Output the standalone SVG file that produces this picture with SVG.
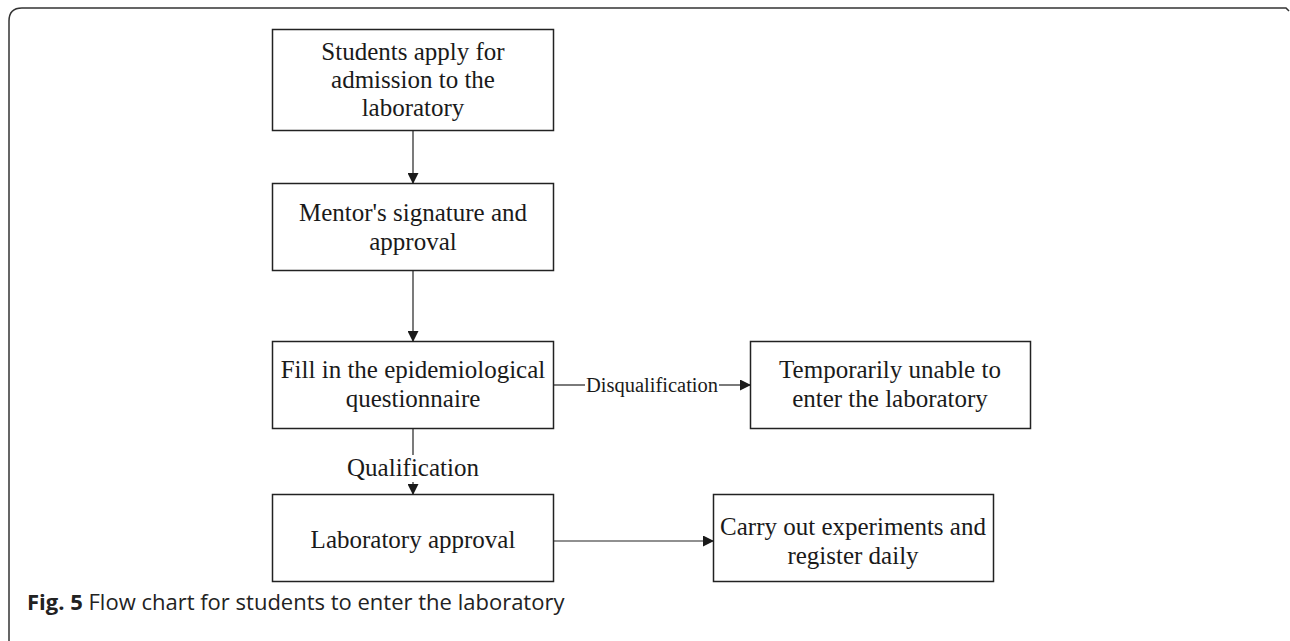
<svg xmlns="http://www.w3.org/2000/svg" width="1290" height="641" viewBox="0 0 1290 641">
<defs>
<marker id="arr" markerWidth="11" markerHeight="11" refX="10" refY="5.5" orient="auto" markerUnits="userSpaceOnUse" viewBox="0 0 11 11">
<path d="M0,0 L11,5.5 L0,11 z" fill="#1a1a1a"/>
</marker>
<style>
.box{fill:#fff;stroke:#222;stroke-width:1.5}
.t{font-family:"Liberation Serif","Times New Roman",serif;font-size:25px;fill:#1a1a1a;text-anchor:middle}
.lbl{font-family:"Liberation Serif","Times New Roman",serif;font-size:20.5px;fill:#1a1a1a;text-anchor:middle}
.c{stroke:#222;stroke-width:1.2;fill:none}
.cap{font-family:"Open Sans","Noto Sans",sans-serif;font-size:22px;fill:#222}
</style>
</defs>
<rect width="1290" height="641" fill="#fff"/>
<path d="M9,641 L9,21 Q9,8 22,8 L1286,8 L1289,11" fill="none" stroke="#333" stroke-width="1.5"/>
<g id="n1"><rect class="box" x="272.5" y="29.5" width="281" height="101"/>
<text class="t" x="413" y="60">Students apply for</text>
<text class="t" x="413" y="88">admission to the</text>
<text class="t" x="413" y="116">laboratory</text></g>
<g id="n2"><rect class="box" x="272.5" y="183.5" width="281" height="87"/>
<text class="t" x="413" y="221">Mentor's signature and</text>
<text class="t" x="413" y="250">approval</text></g>
<g id="n3"><rect class="box" x="272.5" y="341.5" width="281" height="87"/>
<text class="t" x="413" y="378">Fill in the epidemiological</text>
<text class="t" x="413" y="407">questionnaire</text></g>
<g id="n4"><rect class="box" x="750.5" y="341.5" width="280" height="87"/>
<text class="t" x="890" y="378">Temporarily unable to</text>
<text class="t" x="890" y="407">enter the laboratory</text></g>
<g id="n5"><rect class="box" x="272.5" y="494.5" width="281" height="87"/>
<text class="t" x="413" y="548">Laboratory approval</text></g>
<g id="n6"><rect class="box" x="713.5" y="494.5" width="280" height="87"/>
<text class="t" x="853" y="535">Carry out experiments and</text>
<text class="t" x="853" y="564">register daily</text></g>
<g id="connectors">
<line class="c" x1="413" y1="131" x2="413" y2="183" marker-end="url(#arr)"/>
<line class="c" x1="413" y1="271" x2="413" y2="341" marker-end="url(#arr)"/>
<line class="c" x1="554" y1="385" x2="585" y2="385"/>
<text class="lbl" x="652" y="392">Disqualification</text>
<line class="c" x1="719" y1="385" x2="750" y2="385" marker-end="url(#arr)"/>
<line class="c" x1="413" y1="429" x2="413" y2="455"/>
<text class="lbl" x="413" y="476" style="font-size:25px">Qualification</text>
<line class="c" x1="413" y1="482" x2="413" y2="494" marker-end="url(#arr)"/>
<line class="c" x1="554" y1="541" x2="713" y2="541" marker-end="url(#arr)"/>
</g>
<text class="cap" x="27" y="610"><tspan font-weight="bold">Fig. 5</tspan> Flow chart for students to enter the laboratory</text>
</svg>
